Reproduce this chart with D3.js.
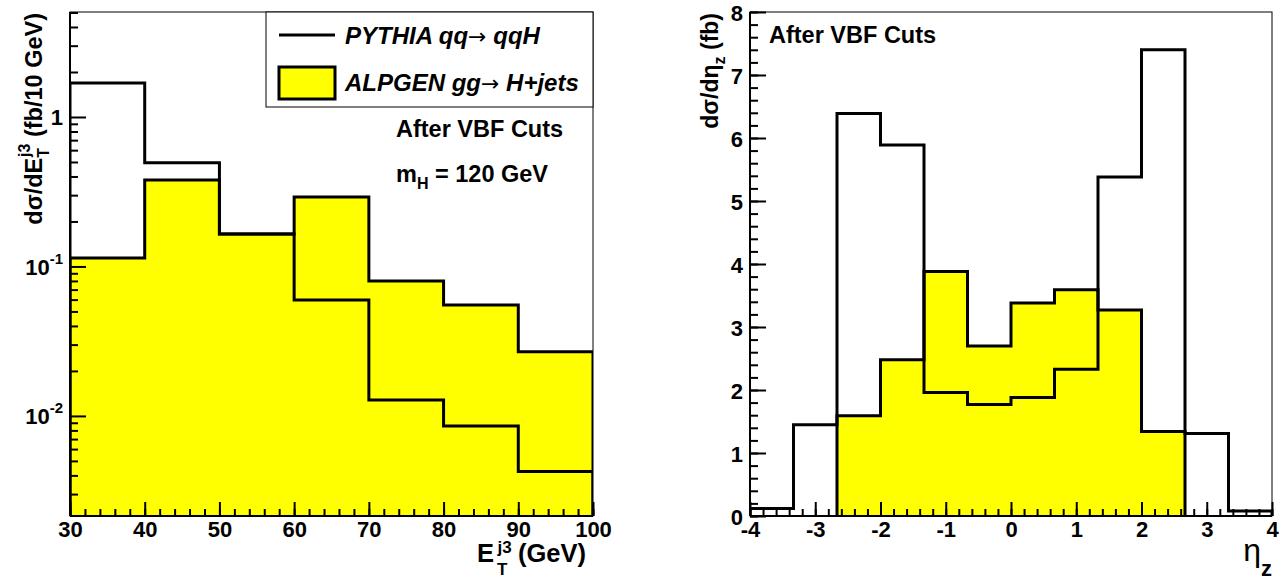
<!DOCTYPE html>
<html><head><meta charset="utf-8">
<script src="https://cdn.jsdelivr.net/npm/d3@7"></script>
<style>
html,body{margin:0;padding:0;background:#fff;}
svg{display:block;font-family:"Liberation Sans",Arial,Helvetica,sans-serif;font-weight:bold;}
svg text{font-family:"Liberation Sans",Arial,Helvetica,sans-serif;}
</style></head>
<body>
<svg id="c" width="1284" height="581"></svg>
<script>
// ---------- data ----------
const etEdges   = [30, 40, 50, 60, 70, 80, 90, 100];
const etPythia  = [1.69, 0.494, 0.165, 0.0597, 0.0128, 0.00857, 0.00424];
const etAlpgen  = [0.114, 0.379, 0.165, 0.292, 0.080, 0.0553, 0.0269];
const etXTicks  = [30, 40, 50, 60, 70, 80, 90, 100];
const etYTicks  = [1, 0.1, 0.01];

const etaEdges  = [-4, -10/3, -8/3, -2, -4/3, -2/3, 0, 2/3, 4/3, 2, 8/3, 10/3, 4];
const etaPythia = [0.12, 1.45, 6.39, 5.89, 1.96, 1.77, 1.88, 2.33, 5.38, 7.40, 1.31, 0.08];
const etaAlpgen = [0, 0, 1.59, 2.48, 3.88, 2.70, 3.38, 3.59, 3.27, 1.34, 0, 0];
const etaXTicks = [-4, -3, -2, -1, 0, 1, 2, 3, 4];
const etaYTicks = [0, 1, 2, 3, 4, 5, 6, 7, 8];

const legendLabels = [["PYTHIA qq", "qqH"], ["ALPGEN gg", "H+jets"]];

const svg = d3.select("#c");
const YELLOW = "#ffff00";
const FONT = '"Liberation Sans", Arial, Helvetica, sans-serif';

function stepPath(edges, vals, x, y, base, trim) {
  let i0 = 0, i1 = vals.length - 1;
  if (trim) { while (i0 < i1 && vals[i0] <= 0) i0++; while (i1 > i0 && vals[i1] <= 0) i1--; }
  const p = d3.path();
  p.moveTo(x(edges[i0]), base);
  for (let i = i0; i <= i1; i++) {
    const yy = vals[i] > 0 ? y(vals[i]) : base;
    p.lineTo(x(edges[i]), yy);
    p.lineTo(x(edges[i + 1]), yy);
  }
  p.lineTo(x(edges[i1 + 1]), base);
  return p.toString();
}

function styleLabels(sel) {
  sel.style("font-family", FONT).style("font-size", "22px").style("font-weight", "bold").attr("fill", "#000");
}

function panel(opts) {
  const {L, R, T, B, id} = opts;
  const g = svg.append("g");
  g.append("clipPath").attr("id", id).append("rect")
    .attr("x", L).attr("y", T).attr("width", R - L).attr("height", B - T);
  const x = opts.x, y = opts.y;
  const plot = g.append("g").attr("clip-path", `url(#${id})`);
  plot.append("path").attr("d", stepPath(opts.edges, opts.alpgen, x, y, B, true))
    .attr("fill", YELLOW).attr("stroke", "#000").attr("stroke-width", 3).attr("stroke-linejoin", "miter");
  plot.append("path").attr("d", stepPath(opts.edges, opts.pythia, x, y, B, false))
    .attr("fill", "none").attr("stroke", "#000").attr("stroke-width", 3);
  // frame
  g.append("rect").attr("x", L).attr("y", T).attr("width", R - L).attr("height", B - T)
    .attr("fill", "none").attr("stroke", "#000").attr("stroke-width", 1);
  // x axis (ticks inward)
  const xa = g.append("g").attr("transform", `translate(0,${B})`)
    .call(d3.axisBottom(x).tickValues(opts.xMinor).tickSize(-7).tickFormat(""));
  xa.select(".domain").remove();
  const xb = g.append("g").attr("transform", `translate(0,${B})`)
    .call(d3.axisBottom(x).tickValues(opts.xTicks).tickSize(-14).tickFormat(d => String(d)));
  xb.select(".domain").remove();
  xb.selectAll("text").call(styleLabels).attr("dy", 0).attr("y", 21);
  // y axis
  const ya = g.append("g").attr("transform", `translate(${L},0)`)
    .call(d3.axisLeft(y).tickValues(opts.yMinor).tickSize(-8).tickFormat(""));
  ya.select(".domain").remove();
  const yb = g.append("g").attr("transform", `translate(${L},0)`)
    .call(d3.axisLeft(y).tickValues(opts.yTicks).tickSize(-16).tickPadding(7).tickFormat(opts.yFmt || (d => String(d))));
  yb.select(".domain").remove();
  yb.selectAll("text").call(styleLabels).attr("dy", 0).attr("y", 8);
  g.selectAll(".tick line").attr("stroke", "#000").attr("stroke-width", 2);
  // axis lines
  g.append("line").attr("x1", L).attr("x2", R).attr("y1", B).attr("y2", B).attr("stroke", "#000").attr("stroke-width", 2);
  g.append("line").attr("x1", L).attr("x2", L).attr("y1", T).attr("y2", B).attr("stroke", "#000").attr("stroke-width", 2);
  return {g, yb};
}

// ---------- left panel ----------
{
  const L = 70, R = 593, T = 12, B = 516;
  const x = d3.scaleLinear().domain([30, 100]).range([L, R]);
  const y = d3.scaleLog().domain([0.00214, 5.04]).range([B, T]);
  const xMinor = d3.range(30, 100.01, 2);
  const yMinor = [];
  [0.001, 0.01, 0.1, 1].forEach(d => { for (let k = 2; k <= 9; k++) { const v = d * k; if (v >= 0.00214 && v <= 5.04) yMinor.push(v); } });
  const {g, yb} = panel({L, R, T, B, id: "clipL", x, y, edges: etEdges, pythia: etPythia, alpgen: etAlpgen,
    xTicks: etXTicks, xMinor, yTicks: etYTicks, yMinor, yFmt: () => ""});
  // custom log labels
  yb.selectAll(".tick").each(function(d) {
    const t = d3.select(this).select("text").text(null).attr("y", 8);
    if (d === 1) { t.text("1"); }
    else {
      const e = Math.round(Math.log10(d));
      t.append("tspan").text("10");
      t.append("tspan").style("font-size", "15px").attr("dy", -11).text(String(e));
    }
  });
  // y title
  const yt = g.append("text").attr("transform", `translate(42,13) rotate(-90)`)
    .attr("text-anchor", "end").style("font-size", "23.5px");
  yt.append("tspan").text("d\u03C3/dE");
  yt.append("tspan").style("font-size", "16px").attr("dy", 7).text("T");
  yt.append("tspan").style("font-size", "16px").attr("dx", -9).attr("dy", -19).text("j3");
  yt.append("tspan").attr("dy", 12).text(" (fb/10 GeV)");
  // x title
  const xt = g.append("text").attr("x", 477).attr("y", 562).attr("text-anchor", "start").style("font-size", "25.5px");
  xt.append("tspan").text("E");
  xt.append("tspan").style("font-size", "17px").attr("dx", 3).attr("dy", 13).text("T");
  xt.append("tspan").style("font-size", "17px").attr("dx", -10).attr("dy", -22).text("j3");
  xt.append("tspan").attr("x", 518).attr("dy", 9).text("(GeV)");
  // legend
  const lg = g.append("g");
  lg.append("rect").attr("x", 266).attr("y", 12).attr("width", 327).attr("height", 95)
    .attr("fill", "#fff").attr("stroke", "#000").attr("stroke-width", 1);
  lg.append("line").attr("x1", 279).attr("x2", 335).attr("y1", 35).attr("y2", 35).attr("stroke", "#000").attr("stroke-width", 3);
  lg.append("rect").attr("x", 279).attr("y", 67).attr("width", 56).attr("height", 32)
    .attr("fill", YELLOW).attr("stroke", "#000").attr("stroke-width", 3);
  lg.selectAll("text.leg").data(legendLabels).join("text").attr("class", "leg")
    .attr("x", 345).attr("y", (d, i) => 44 + i * 47).style("font-size", "24px").attr("font-style", "italic")
    .each(function(d) {
      const t = d3.select(this);
      t.append("tspan").text(d[0]);
      t.append("tspan").style("font-family", '"DejaVu Sans"').style("font-weight", "normal")
        .attr("font-style", "normal").style("font-size", "22px").text("\u2192");
      t.append("tspan").text(" " + d[1]);
    });
  g.append("text").attr("x", 396).attr("y", 137).style("font-size", "23.5px").text("After VBF Cuts");
  const mh = g.append("text").attr("x", 396).attr("y", 182).style("font-size", "23.5px");
  mh.append("tspan").text("m");
  mh.append("tspan").style("font-size", "16px").attr("dy", 7).text("H");
  mh.append("tspan").attr("dy", -7).text(" = 120 GeV");
}

// ---------- right panel ----------
{
  const L = 750, R = 1272, T = 12, B = 516;
  const x = d3.scaleLinear().domain([-4, 4]).range([L, R]);
  const y = d3.scaleLinear().domain([0, 8]).range([B, T]);
  const xMinor = d3.range(-4, 4.001, 0.2);
  const yMinor = d3.range(0, 8.001, 0.2);
  const {g} = panel({L, R, T, B, id: "clipR", x, y, edges: etaEdges, pythia: etaPythia, alpgen: etaAlpgen,
    xTicks: etaXTicks, xMinor, yTicks: etaYTicks, yMinor});
  const yt = g.append("text").attr("transform", `translate(718,13) rotate(-90)`)
    .attr("text-anchor", "end").style("font-size", "23px");
  yt.append("tspan").text("d\u03C3/d\u03B7");
  yt.append("tspan").style("font-size", "16px").attr("dy", 7).text("z");
  yt.append("tspan").attr("dy", -7).text(" (fb)");
  const xt = g.append("text").attr("x", 1272).attr("y", 561).attr("text-anchor", "end")
    .style("font-size", "32px").style("font-weight", "normal");
  xt.append("tspan").text("\u03B7");
  xt.append("tspan").style("font-size", "22px").style("font-weight", "bold").attr("dy", 15).text("z");
  g.append("text").attr("x", 769).attr("y", 43).style("font-size", "23.5px").text("After VBF Cuts");
}
</script>
</body></html>
